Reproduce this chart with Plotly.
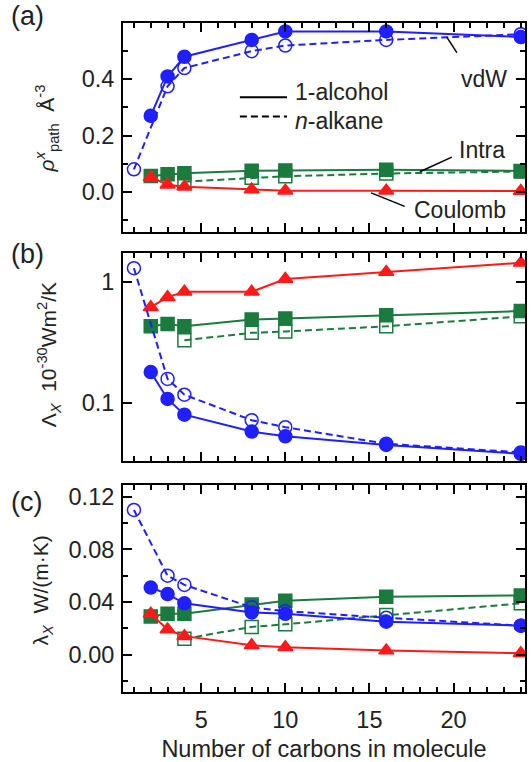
import plotly.graph_objects as go

# Number of carbons
n_alc = [2, 3, 4, 8, 10, 16, 24]
n_alk_vdw = [1, 3, 4, 8, 10, 16, 24]
n_alk_intra = [4, 8, 10, 16, 24]

# (a) path density rho_path (A^-3)
a_vdw_alc = [0.27, 0.41, 0.48, 0.54, 0.57, 0.57, 0.55]
a_vdw_alk = [0.08, 0.375, 0.44, 0.50, 0.52, 0.54, 0.56]
a_intra_alc = [0.056, 0.062, 0.066, 0.075, 0.076, 0.078, 0.074]
a_intra_alk = [0.036, 0.050, 0.055, 0.065, 0.072]
a_coul_alc = [0.052, 0.025, 0.018, 0.008, 0.004, 0.004, 0.003]

# (b) Lambda_X (1e-30 W m^2 / K)
b_vdw_alc = [0.18, 0.108, 0.080, 0.058, 0.053, 0.045, 0.038]
b_vdw_alk = [1.30, 0.158, 0.117, 0.072, 0.063, 0.046, 0.039]
b_intra_alc = [0.43, 0.45, 0.43, 0.49, 0.50, 0.53, 0.575]
b_intra_alk = [0.33, 0.38, 0.39, 0.43, 0.52]
b_coul_alc = [0.62, 0.75, 0.83, 0.83, 1.06, 1.21, 1.44]

# (c) lambda_X (W/(m K))
c_vdw_alc = [0.051, 0.046, 0.039, 0.032, 0.031, 0.025, 0.022]
c_vdw_alk = [0.110, 0.060, 0.053, 0.036, 0.033, 0.028, 0.022]
c_intra_alc = [0.029, 0.031, 0.031, 0.038, 0.041, 0.044, 0.045]
c_intra_alk = [0.012, 0.021, 0.023, 0.030, 0.039]
c_coul_alc = [0.031, 0.019, 0.014, 0.007, 0.0055, 0.003, 0.001]

BLUE = "#1f1fff"
GREEN = "#1b7a3e"
RED = "#ff1a1a"
FONT = "Liberation Sans, Arial, sans-serif"
TXT = "#222"
FS = 23.5
DASH = "7px,4px"

fig = go.Figure()


def add_series(xs, ys, color, symbol, dash, row_axes):
    xa, ya = row_axes
    fig.add_trace(go.Scatter(
        x=xs, y=ys, mode="lines+markers", xaxis=xa, yaxis=ya,
        line=dict(color=color, width=2, dash=dash),
        marker=dict(symbol=symbol, size=13, color=color,
                    line=dict(color=color, width=1.5)),
        showlegend=False,
    ))


panels = [
    (("x", "y"), a_vdw_alc, a_vdw_alk, a_intra_alc, a_intra_alk, a_coul_alc),
    (("x2", "y2"), b_vdw_alc, b_vdw_alk, b_intra_alc, b_intra_alk, b_coul_alc),
    (("x3", "y3"), c_vdw_alc, c_vdw_alk, c_intra_alc, c_intra_alk, c_coul_alc),
]
for axes, vdw_alc, vdw_alk, intra_alc, intra_alk, coul_alc in panels:
    add_series(n_alk_intra, intra_alk, GREEN, "square-open", DASH, axes)
    add_series(n_alc, intra_alc, GREEN, "square", "solid", axes)
    add_series(n_alc, coul_alc, RED, "triangle-up", "solid", axes)
    add_series(n_alk_vdw, vdw_alk, BLUE, "circle-open", DASH, axes)
    add_series(n_alc, vdw_alc, BLUE, "circle", "solid", axes)

xrange = [0.35, 24.25]
common_x = dict(range=xrange, showline=True, linecolor="black", linewidth=2,
                mirror="ticks", ticks="inside", ticklen=9, tickwidth=1.5,
                tickcolor="black", tickvals=[5, 10, 15, 20],
                minor=dict(ticks="inside", ticklen=5, tickwidth=1.5,
                           tickcolor="black", dtick=1, tick0=0),
                showgrid=False, zeroline=False,
                tickfont=dict(family=FONT, size=FS, color=TXT))
common_y = dict(showline=True, linecolor="black", linewidth=2, mirror="ticks",
                ticks="inside", ticklen=9, tickwidth=1.5, tickcolor="black",
                showgrid=False, zeroline=False, ticklabelstandoff=2,
                tickfont=dict(family=FONT, size=FS, color=TXT))

fig.update_layout(
    width=531, height=762,
    margin=dict(l=123, r=4, t=23, b=70),
    plot_bgcolor="white", paper_bgcolor="white",
    font=dict(family=FONT, size=FS, color=TXT),
    xaxis=dict(common_x, domain=[0, 1], anchor="y", showticklabels=False),
    xaxis2=dict(common_x, domain=[0, 1], anchor="y2", showticklabels=False),
    xaxis3=dict(common_x, domain=[0, 1], anchor="y3",
                ticktext=["5", "10", "15", "20"], ticklabelstandoff=6,
                title=dict(text="Number of carbons in molecule",
                           font=dict(family=FONT, size=FS, color=TXT),
                           standoff=8)),
    yaxis=dict(common_y, domain=[0.6876, 1.0], anchor="x",
               range=[-0.143, 0.6], tickvals=[0.0, 0.2, 0.4],
               ticktext=["0.0", "0.2", "0.4"],
               minor=dict(ticks="inside", ticklen=5, tickwidth=1.5,
                          tickcolor="black", dtick=0.1, tick0=0)),
    yaxis2=dict(common_y, domain=[0.3453, 0.6562], anchor="x2", type="log",
                range=[-1.48, 0.24], tickvals=[0.1, 1], ticktext=["0.1", "1"]),
    yaxis3=dict(common_y, domain=[0.0, 0.3094], anchor="x3",
                range=[-0.0285, 0.129], tickvals=[0.0, 0.04, 0.08, 0.12],
                ticktext=["0.00", "0.04", "0.08", "0.12"],
                minor=dict(ticks="inside", ticklen=5, tickwidth=1.5,
                           tickcolor="black", dtick=0.02, tick0=0)),
)

# Panel letters
for label, ypix in [("(a)", 16), ("(b)", 254), ("(c)", 502)]:
    fig.add_annotation(text=label, xref="paper", yref="paper",
                       x=-123 / 404 + 8 / 404, y=(692 - ypix) / 669,
                       xanchor="left", yanchor="middle", showarrow=False,
                       font=dict(family=FONT, size=27, color=TXT))

# Rotated axis titles
ytitles = [
    ("<i>ρ</i><sup><i>x</i></sup><sub>path</sub>  Å<sup>-3</sup>", 128, 46),
    ("Λ<sub><i>X</i></sub>  10<sup>-30</sup>Wm<sup>2</sup>/K", 355, 48),
    ("λ<sub><i>X</i></sub>  W/(m·K)", 590, 42),
]
for txt, ypix, xpix in ytitles:
    fig.add_annotation(text=txt, xref="paper", yref="paper",
                       x=-(123 - xpix) / 404, y=(692 - ypix) / 669,
                       xanchor="center", yanchor="middle", textangle=-90,
                       showarrow=False,
                       font=dict(family=FONT, size=21, color=TXT))

# Legend keys in panel (a)
fig.add_shape(type="line", xref="x", yref="y", x0=7.3, x1=10.1, y0=0.336, y1=0.336,
              line=dict(color="black", width=2))
fig.add_shape(type="line", xref="x", yref="y", x0=7.3, x1=10.1, y0=0.268, y1=0.268,
              line=dict(color="black", width=2, dash=DASH))
fig.add_annotation(text="1-alcohol", xref="x", yref="y", x=10.5, y=0.305,
                   xanchor="left", yanchor="bottom", showarrow=False,
                   font=dict(size=23), borderpad=0)
fig.add_annotation(text="<i>n</i>-alkane", xref="x", yref="y", x=10.5, y=0.302,
                   xanchor="left", yanchor="top", showarrow=False,
                   font=dict(size=23), borderpad=0)

# Component labels with leader lines
leaders = [
    ("vdW", 21.8, 0.40, 19.6, 0.55, 20.2, 0.495),
    ("Intra", 21.7, 0.15, 18.0, 0.071, 19.9, 0.123),
    ("Coulomb", 20.4, -0.064, 15.1, -0.004, 17.1, -0.052),
]
for txt, tx, ty, lx0, ly0, lx1, ly1 in leaders:
    fig.add_shape(type="line", xref="x", yref="y", x0=lx0, y0=ly0, x1=lx1, y1=ly1,
                  line=dict(color="black", width=1.5))
    fig.add_annotation(text=txt, xref="x", yref="y", x=tx, y=ty,
                       xanchor="center", showarrow=False, font=dict(size=23))

fig.write_html("out.html")
